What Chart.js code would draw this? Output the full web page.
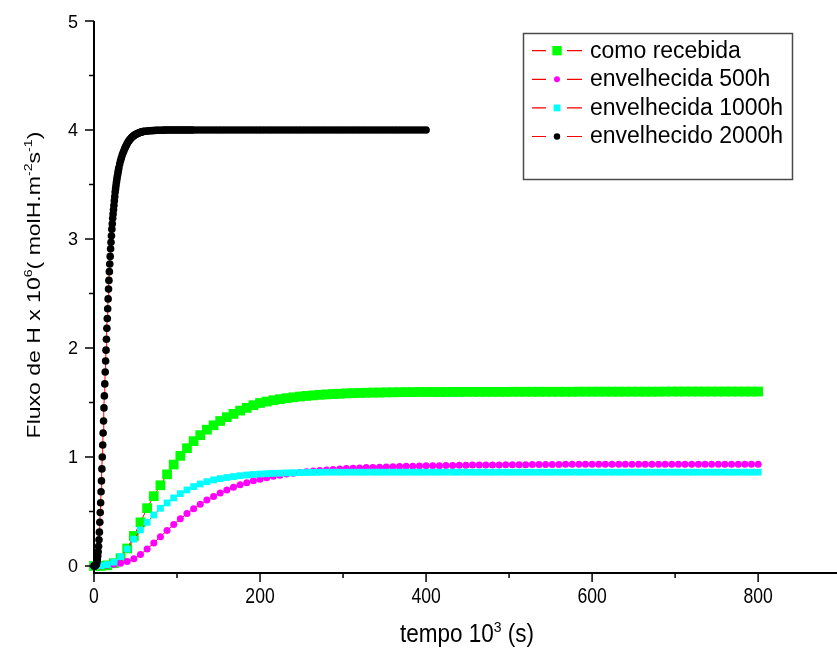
<!DOCTYPE html>
<html>
<head>
<meta charset="utf-8">
<script src="https://cdn.jsdelivr.net/npm/chart.js@4.4.1/dist/chart.umd.min.js"></script>
<style>
  html, body { margin: 0; padding: 0; background: #fff; }
  #wrap { width: 837px; height: 651px; }
</style>
</head>
<body>
<div id="wrap"><canvas id="chart" width="837" height="651"></canvas></div>
<script>
// Sampling times (10^3 s) shared by the three slower samples
const sampleTimes = [0,8,16,24,32,40,48,56,64,72,80,88,96,104,112,120,128,136,144,152,160,168,176,184,192,200,208,216,224,232,240,248,256,264,272,280,288,296,304,312,320,328,336,344,352,360,368,376,384,392,400,408,416,424,432,440,448,456,464,472,480,488,496,504,512,520,528,536,544,552,560,568,576,584,592,600,608,616,624,632,640,648,656,664,672,680,688,696,704,712,720,728,736,744,752,760,768,776,784,792,800];

// Hydrogen flux x 10^6 (molH.m^-2 s^-1)
const fluxComoRecebida = [0,0,0.005,0.025,0.07,0.16,0.275,0.40,0.53,0.64,0.74,0.84,0.93,1.01,1.08,1.145,1.20,1.25,1.29,1.33,1.365,1.395,1.425,1.45,1.475,1.495,1.508,1.52,1.53,1.539,1.547,1.554,1.56,1.565,1.57,1.574,1.577,1.58,1.583,1.585,1.587,1.589,1.59,1.591,1.592,1.593,1.594,1.595,1.595,
  1.596,1.596,1.596,1.596,1.596,1.596,
  1.597,1.597,1.597,1.597,1.597,1.597,1.597,1.597,
  1.598,1.598,1.598,1.598,1.598,1.598,1.598,1.598,1.598,1.598,
  1.599,1.599,1.599,1.599,1.599,1.599,1.599,1.599,1.599,1.599,1.599,1.599,1.599,
  1.6,1.6,1.6,1.6,1.6,1.6,1.6,1.6,1.6,1.6,1.6,1.6,1.6,1.6,1.6];

const fluxEnvelhecida500 = [0,0,0.005,0.015,0.025,0.04,0.065,0.105,0.155,0.21,0.268,0.325,0.38,0.432,0.48,0.525,0.566,0.604,0.638,0.669,0.697,0.722,0.744,0.764,0.781,0.796,0.81,0.822,0.833,0.843,0.851,0.858,0.865,0.871,0.876,0.881,0.885,0.889,0.893,0.896,0.899,0.902,0.904,0.906,0.908,0.91,0.912,0.914,0.915,0.917,0.918,
  0.919,0.92,0.921,0.922,0.923,0.924,0.925,0.925,0.926,0.927,
  0.927,0.928,0.928,0.929,0.929,0.93,0.93,0.93,0.931,0.931,
  0.932,0.932,0.932,0.932,0.932,0.932,0.932,0.932,0.932,0.932,
  0.933,0.933,0.933,0.933,0.933,0.933,0.933,0.933,0.933,0.933,
  0.934,0.934,0.934,0.934,0.934,0.934,0.934,0.934,0.934,0.934];

const fluxEnvelhecida1000 = [0,0.003,0.012,0.035,0.085,0.155,0.245,0.33,0.40,0.467,0.529,0.578,0.624,0.663,0.697,0.728,0.752,0.773,0.789,0.801,0.811,0.82,0.828,0.834,0.839,0.843,0.846,0.849,0.851,0.853,0.855,0.856,0.857,0.858,0.859,
  0.86,0.86,0.86,0.86,0.86,0.86,0.86,0.86,0.86,0.86,0.86,0.86,0.86,0.86,0.86,0.86,0.86,0.86,0.86,0.86,0.86,0.86,0.86,0.86,0.86,0.86,0.86,0.86,0.86,0.86,0.86,0.86,0.86,
  0.86,0.86,0.86,0.86,0.86,0.86,0.86,0.86,0.86,0.86,0.86,0.86,0.86,0.86,0.86,0.86,0.86,0.86,0.86,0.86,0.86,0.86,0.86,0.86,0.86,0.86,0.86,0.86,0.86,0.86,0.86,0.86,0.86];

// The 2000 h sample was recorded more finely during the fast rise
const times2000 = [0,0.5,1,1.5,2,2.5,3,3.5,4,4.5,5,5.5,6,6.5,7,7.5,8,8.5,9,9.5,10,10.5,11,11.5,12,12.5,13,13.5,14,14.5,15,15.5,16,16.5,17,17.5,18,18.5,19,19.5,20,20.5,21,21.5,22,22.5,23,23.5,24,24.5,25,25.5,26,26.5,27,27.5,28,28.5,29,29.5,30,
  31,32,33,34,35,36,37,38,39,40,41,42,43,44,45,46,47,48,49,50,51,52,53,54,55,56,57,58,59,60,
  62,64,66,68,70,72,74,76,78,80,82,84,86,88,90,92,94,96,98,100,102,104,106,108,110,112,114,116,118,120,
  124,128,132,136,140,144,148,152,156,160,164,168,172,176,180,184,188,192,196,200,204,208,212,216,220,224,228,232,236,240,244,248,252,256,260,264,268,272,276,280,284,288,292,296,300,304,308,312,316,320,324,328,332,336,340,344,348,352,356,360,364,368,372,376,380,384,388,392,396,400];

const fluxEnvelhecido2000 = [0,0,0,0.002,0.005,0.01,0.02,0.035,0.06,0.09,0.13,0.18,0.24,0.31,0.40,0.49,0.58,0.68,0.78,0.89,1.0,1.11,1.22,1.33,1.45,1.56,1.67,1.78,1.88,1.98,2.08,2.18,2.27,2.36,2.45,2.54,2.62,2.70,2.77,2.84,2.91,2.97,3.03,3.09,3.14,3.19,3.23,3.27,3.31,3.35,3.39,3.43,3.46,3.49,3.52,3.545,3.57,3.59,3.615,3.635,3.655,
  3.69,3.72,3.745,3.77,3.79,3.81,3.83,3.845,3.86,3.875,3.89,3.90,3.91,3.92,3.928,3.935,3.942,3.948,3.953,3.958,3.962,3.966,3.97,3.973,3.976,3.979,3.981,3.983,3.985,3.987,
  3.989,3.991,3.992,3.993,3.994,3.995,3.996,3.997,3.997,3.998,3.998,3.999,3.999,4,4,4,4,4,4,4,4,4,4,4,4,4,4,4,4,4,
  4,4,4,4,4,4,4,4,4,4,4,4,4,4,4,4,4,4,4,4,4,4,4,4,4,4,4,4,4,4,4,4,4,4,4,4,4,4,4,4,4,4,4,4,4,4,4,4,4,4,4,4,4,4,4,4,4,4,4,4,4,4,4,4,4,4,4,4,4,4,4,4,4,4,4,4,4,4,4,4];

const seriesLabels = ['como recebida', 'envelhecida 500h', 'envelhecida 1000h', 'envelhecido 2000h'];

const xMajorTicks = [0, 200, 400, 600, 800];
const xMinorTicks = [100, 300, 500, 700];
const yMajorTicks = [0, 1, 2, 3, 4, 5];
const yMinorTicks = [0.5, 1.5, 2.5, 3.5, 4.5];

const FONT = '"Liberation Sans", Arial, Helvetica, sans-serif';

const toPoints = (t, v) => t.map((x, i) => ({ x: x, y: v[i] }));

function series(label, t, v, color, style, radius, order) {
  return {
    label: label,
    data: toPoints(t, v),
    borderColor: '#ff0000',
    borderWidth: 1,
    pointStyle: style,
    pointRadius: radius,
    pointHoverRadius: radius,
    pointBackgroundColor: color,
    pointBorderColor: color,
    pointBorderWidth: 0,
    clip: false,
    order: order
  };
}

// Text with raised, smaller pieces (exponents), centred on the origin
function richText(ctx, parts, size) {
  const widths = parts.map(p => {
    ctx.font = (p.sup ? size * 0.62 : size) + 'px ' + FONT;
    return ctx.measureText(p.t).width;
  });
  const total = widths.reduce((a, b) => a + b, 0);
  let cx = -total / 2;
  ctx.textAlign = 'left';
  ctx.textBaseline = 'alphabetic';
  parts.forEach((p, i) => {
    ctx.font = (p.sup ? size * 0.62 : size) + 'px ' + FONT;
    ctx.fillText(p.t, cx, p.sup ? -size * 0.42 : 0);
    cx += widths[i];
  });
}

function marker(ctx, style, r, x, y, color) {
  ctx.fillStyle = color;
  if (style === 'rect') {
    const s = Math.SQRT1_2 * r;
    ctx.fillRect(x - s, y - s, 2 * s, 2 * s);
  } else {
    ctx.beginPath();
    ctx.arc(x, y, r, 0, Math.PI * 2);
    ctx.fill();
  }
}

const originFrame = {
  id: 'originFrame',
  afterDatasetsDraw(chart) {
    const { ctx, chartArea: a, scales: { x, y } } = chart;
    ctx.save();
    ctx.strokeStyle = '#000';
    ctx.fillStyle = '#000';

    // axis lines
    ctx.lineWidth = 2;
    ctx.beginPath();
    ctx.moveTo(a.left - 1, a.bottom);
    ctx.lineTo(chart.width, a.bottom);
    ctx.moveTo(a.left, a.bottom);
    ctx.lineTo(a.left, y.getPixelForValue(5));
    ctx.stroke();

    // outward tick marks
    ctx.lineWidth = 1.5;
    ctx.beginPath();
    xMajorTicks.forEach(v => { const p = x.getPixelForValue(v); ctx.moveTo(p, a.bottom); ctx.lineTo(p, a.bottom + 9); });
    xMinorTicks.forEach(v => { const p = x.getPixelForValue(v); ctx.moveTo(p, a.bottom); ctx.lineTo(p, a.bottom + 5); });
    yMajorTicks.forEach(v => { const p = y.getPixelForValue(v); ctx.moveTo(a.left, p); ctx.lineTo(a.left - 9, p); });
    yMinorTicks.forEach(v => { const p = y.getPixelForValue(v); ctx.moveTo(a.left, p); ctx.lineTo(a.left - 5, p); });
    ctx.stroke();

    // tick labels
    ctx.textAlign = 'center';
    ctx.textBaseline = 'alphabetic';
    xMajorTicks.forEach(v => {
      ctx.save();
      ctx.translate(x.getPixelForValue(v), 603);
      ctx.scale(0.8, 1);
      ctx.font = '22px ' + FONT;
      ctx.fillText(String(v), 0, 0);
      ctx.restore();
    });
    ctx.textAlign = 'right';
    ctx.font = '18px ' + FONT;
    yMajorTicks.forEach(v => {
      ctx.fillText(String(v), 78, y.getPixelForValue(v) + 6.5);
    });

    // axis titles
    ctx.save();
    ctx.translate(467, 642);
    ctx.scale(0.9, 1);
    richText(ctx, [{ t: 'tempo 10' }, { t: '3', sup: true }, { t: ' (s)' }], 25);
    ctx.restore();

    ctx.save();
    ctx.translate(40, 285);
    ctx.rotate(-Math.PI / 2);
    ctx.scale(1, 0.78);
    richText(ctx, [{ t: 'Fluxo de H x 10' }, { t: '6', sup: true }, { t: '( molH.m' }, { t: '-2', sup: true }, { t: 's' }, { t: '-1', sup: true }, { t: ')' }], 23);
    ctx.restore();

    // legend box
    ctx.lineWidth = 1.5;
    ctx.strokeStyle = '#4a4a4a';
    ctx.strokeRect(523.5, 33.5, 269, 146);
    chart.data.datasets.forEach((ds, i) => {
      const ry = 50.7 + i * 28.6;
      ctx.strokeStyle = ds.borderColor;
      ctx.lineWidth = 1.2;
      ctx.beginPath();
      ctx.moveTo(532, ry); ctx.lineTo(546, ry);
      ctx.moveTo(567, ry); ctx.lineTo(582, ry);
      ctx.stroke();
      marker(ctx, ds.pointStyle, ds.pointStyle === 'rect' ? Math.min(ds.pointRadius, 6.6) : ds.pointRadius * 0.85, 557, ry, ds.pointBackgroundColor);
      ctx.fillStyle = '#000';
      ctx.font = '23px ' + FONT;
      ctx.textAlign = 'left';
      ctx.fillText(ds.label, 590, ry + 6.8);
    });
    ctx.restore();
  }
};

new Chart(document.getElementById('chart'), {
  type: 'line',
  data: {
    datasets: [
      series(seriesLabels[0], sampleTimes, fluxComoRecebida, '#00ff00', 'rect', 6.9, 3),
      series(seriesLabels[1], sampleTimes, fluxEnvelhecida500, '#ff00ff', 'circle', 3.5, 2),
      series(seriesLabels[2], sampleTimes, fluxEnvelhecida1000, '#00ffff', 'rect', 4.8, 1),
      series(seriesLabels[3], times2000, fluxEnvelhecido2000, '#000000', 'circle', 3.8, 0)
    ]
  },
  options: {
    responsive: false,
    animation: false,
    devicePixelRatio: 1,
    layout: { autoPadding: false, padding: { top: 21, left: 0, right: 0, bottom: 0 } },
    plugins: { legend: { display: false }, tooltip: { enabled: false } },
    elements: { line: { tension: 0, fill: false } },
    scales: {
      x: {
        type: 'linear', min: 0, max: 895,
        grid: { display: false, drawTicks: false },
        border: { display: false },
        ticks: { display: false },
        afterFit(s) { s.height = 78; s.paddingLeft = 0; s.paddingRight = 0; }
      },
      y: {
        type: 'linear', min: -0.065, max: 5,
        grid: { display: false, drawTicks: false },
        border: { display: false },
        ticks: { display: false },
        afterFit(s) { s.width = 94; s.paddingTop = 0; s.paddingBottom = 0; }
      }
    }
  },
  plugins: [originFrame]
});
</script>
</body>
</html>
